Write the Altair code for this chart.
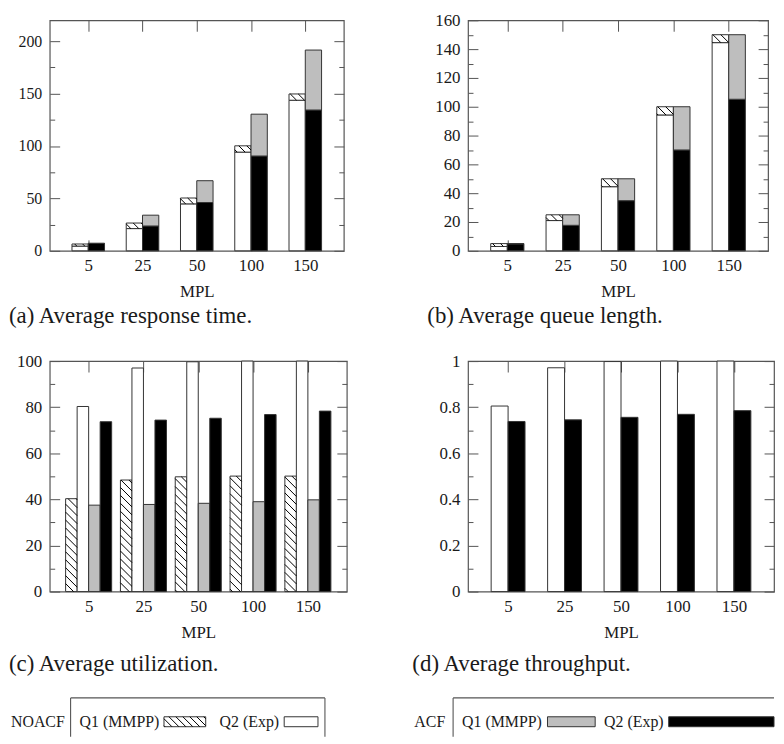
import math
import altair as alt
import pandas as pd

FONT = "Liberation Serif"
TXT = "#1a1a1a"
FRAME = "#555555"
EDGE = "#333333"
GRAY = "#bebebe"

# ---------------- data ----------------
mpl = ["5", "25", "50", "100", "150"]
groups = ["NOACF", "ACF"]
series = ["Q1 (MMPP)", "Q2 (Exp)"]

# (a) Average response time (stacked: Q2 bottom, Q1 top)
resp_noacf_q2 = [4.5, 21.2, 44.8, 94.2, 143.7]
resp_noacf_q1 = [2.0, 5.3, 5.6, 6.0, 6.0]
resp_acf_q2 = [7.0, 23.7, 46.1, 90.5, 134.4]
resp_acf_q1 = [0.2, 10.3, 20.8, 39.9, 57.2]

# (b) Average queue length
qlen_noacf_q2 = [3.0, 21.0, 44.5, 94.3, 144.5]
qlen_noacf_q1 = [2.0, 4.0, 5.5, 5.7, 5.5]
qlen_acf_q2 = [4.8, 17.7, 34.8, 70.0, 105.2]
qlen_acf_q1 = [0.2, 7.3, 15.2, 30.0, 44.8]

# (c) Average utilization (grouped)
util_noacf_q1 = [40.3, 48.4, 49.8, 50.1, 50.1]
util_noacf_q2 = [80.3, 97.0, 99.7, 100.0, 100.0]
util_acf_q1 = [37.5, 37.8, 38.3, 39.0, 39.8]
util_acf_q2 = [73.7, 74.4, 75.2, 76.8, 78.3]

# (d) Average throughput
tput_noacf = [0.805, 0.971, 0.998, 1.0, 1.0]
tput_acf = [0.738, 0.745, 0.756, 0.769, 0.785]

KINDS = ["hatch", "white", "gray", "black"]
KIND_FILL = ["white", "white", GRAY, "black"]

XDOM = [-0.71, 4.71]
STEP = 8.0
H = 232


def hatch_rows(rects, kx, ky):
    rows = []
    for (x0, x1, y0, y1) in rects:
        xa, xb = (x0 - XDOM[0]) * kx, (x1 - XDOM[0]) * kx
        ya, yb = y0 * ky, y1 * ky
        m = math.floor((xa + ya) / STEP) + 1
        while m * STEP < xb + yb:
            c = m * STEP
            sx = max(xa, c - yb)
            ex = min(xb, c - ya)
            if ex - sx > 0.3:
                rows.append(dict(hx=sx / kx + XDOM[0], hx2=ex / kx + XDOM[0],
                                 hy=(c - sx) / ky, hy2=(c - ex) / ky))
            m += 1
    return pd.DataFrame(rows)


def stacked_rects(noacf_q2, noacf_q1, acf_q2, acf_q1, w=0.30):
    rows = []
    for i in range(len(mpl)):
        rows.append(dict(x0=i - w, x1=i, y0=0, y1=noacf_q2[i], kind="white"))
        rows.append(dict(x0=i - w, x1=i, y0=noacf_q2[i], y1=noacf_q2[i] + noacf_q1[i], kind="hatch"))
        rows.append(dict(x0=i, x1=i + w, y0=0, y1=acf_q2[i], kind="black"))
        rows.append(dict(x0=i, x1=i + w, y0=acf_q2[i], y1=acf_q2[i] + acf_q1[i], kind="gray"))
    return pd.DataFrame(rows)


def grouped_rects(cols, kinds, w):
    rows = []
    n = len(cols)
    for i in range(len(mpl)):
        for j, (vals, k) in enumerate(zip(cols, kinds)):
            x0 = i - n * w / 2 + j * w
            rows.append(dict(x0=x0, x1=x0 + w, y0=0, y1=vals[i], kind=k))
    return pd.DataFrame(rows)


PX = alt.X("px:Q", scale=None, axis=None)
PY = alt.Y("py:Q", scale=None, axis=None)
FILL = alt.Fill("kind:N", legend=None, scale=alt.Scale(domain=KINDS, range=KIND_FILL))


def legend_layers(ox, oy, label, lab_x, box, entries):
    """Custom legend drawn in page pixel coords, shifted to the panel origin (ox, oy)."""
    bx0, bx1, btop, bbot = box
    ty = 721
    texts = [dict(px=lab_x - ox, py=ty - oy, t=label)]
    rules = [dict(px=bx0 - ox, px2=bx0 - ox, py=btop - oy, py2=bbot - oy),
             dict(px=bx0 - ox, px2=bx1 - ox, py=btop - oy, py2=btop - oy)]
    if bx1 < 776:
        rules.append(dict(px=bx1 - ox, px2=bx1 - ox, py=btop - oy, py2=bbot - oy))
    sw, hl = [], []
    for s, (tx, sx0, sx1, k) in zip(series, entries):
        texts.append(dict(px=tx - ox, py=ty - oy, t=s))
        sw.append(dict(px=sx0 - ox, px2=sx1 - ox, py=ty - 5 - oy, py2=ty + 5 - oy, kind=k))
        if k == "hatch":
            xa, xb, ya, yb = sx0 - ox, sx1 - ox, ty - 5 - oy, ty + 5 - oy
            m = math.floor((xa - yb) / 7) + 1
            while m * 7 < xb - ya:
                c = m * 7
                a = max(xa, c + ya)
                e = min(xb, c + yb)
                if e - a > 0.3:
                    hl.append(dict(px=a, px2=e, py=a - c, py2=e - c))
                m += 1
    out = [
        alt.Chart(pd.DataFrame(rules)).mark_rule(color=FRAME, strokeWidth=1.1).encode(
            x=PX, x2="px2:Q", y=PY, y2="py2:Q"),
        alt.Chart(pd.DataFrame(sw)).mark_rect(stroke=EDGE, strokeWidth=1).encode(
            x=PX, x2="px2:Q", y=PY, y2="py2:Q", fill=FILL),
        alt.Chart(pd.DataFrame(texts)).mark_text(
            align="left", baseline="middle", font=FONT, fontSize=16, color=TXT).encode(
            x=PX, y=PY, text="t:N"),
    ]
    if hl:
        out.append(alt.Chart(pd.DataFrame(hl)).mark_rule(color="black", strokeWidth=1).encode(
            x=PX, x2="px2:Q", y=PY, y2="py2:Q"))
    return out


def panel(df, ymax, minor, W, caption, cap_x, cap_dy, ylab_size, extra=()):
    kx = W / (XDOM[1] - XDOM[0])
    ky = H / ymax
    major = f"round(datum.value / {minor}) % 2 === 0"
    n = int(math.floor(ymax / minor + 1e-9))
    yvals = [round(i * minor, 6) for i in range(n + 1)]
    lab = "[" + ",".join("'%s'" % m for m in mpl) + "][datum.value]"
    xscale = alt.Scale(domain=XDOM, nice=False, zero=False)
    yscale = alt.Scale(domain=[0, ymax], nice=False, zero=False)
    xaxis = alt.Axis(values=list(range(len(mpl))), labelExpr=lab, title="MPL",
                     grid=True, gridDash=[11, H - 22, 11, 3000], gridColor=FRAME,
                     gridWidth=1, gridOpacity=1, ticks=False, domain=False,
                     labelPadding=7, titlePadding=10, labelFont=FONT, labelFontSize=17,
                     titleFont=FONT, titleFontSize=17, titleFontWeight="normal",
                     labelColor=TXT, titleColor=TXT, labelOverlap=False)
    yaxis = alt.Axis(values=yvals, labelExpr=f"{major} ? format(datum.value, '~g') : ''",
                     title=None, grid=True,
                     gridDash={"condition": {"test": major, "value": [10, W - 20, 10, 3000]},
                               "value": [5, W - 10, 5, 3000]},
                     gridColor=FRAME, gridWidth=1, gridOpacity=1, ticks=False, domain=False,
                     labelPadding=8, labelFont=FONT, labelFontSize=ylab_size, labelColor=TXT,
                     labelOverlap=False, minExtent=40, maxExtent=40)
    bars = alt.Chart(df).mark_rect(stroke=EDGE, strokeWidth=1).encode(
        x=alt.X("x0:Q", scale=xscale, axis=xaxis), x2="x1:Q",
        y=alt.Y("y0:Q", scale=yscale, axis=yaxis), y2="y1:Q",
        fill=FILL)
    layers = [bars]
    hrects = [(r.x0, r.x1, r.y0, r.y1) for r in df.itertuples() if r.kind == "hatch"]
    if hrects:
        hdf = hatch_rows(hrects, kx, ky)
        layers.append(alt.Chart(hdf).mark_rule(color="black", strokeWidth=1).encode(
            x=alt.X("hx:Q", scale=xscale, axis=None), x2="hx2:Q",
            y=alt.Y("hy:Q", scale=yscale, axis=None), y2="hy2:Q"))
    cap = pd.DataFrame({"px": [cap_x], "py": [H + cap_dy], "t": [caption]})
    layers.append(alt.Chart(cap).mark_text(align="left", baseline="middle", font=FONT,
                                           fontSize=23, color=TXT).encode(
        x=PX, y=PY, text="t:N"))
    layers.extend(extra)
    return alt.layer(*layers).resolve_scale(x="independent", y="independent").properties(
        width=W, height=H)


# panel origins on the page (used only to place the custom legend)
C_OX, C_OY = 49, 358
D_OX, D_OY = 468, 358

leg_left = legend_layers(C_OX, C_OY, groups[0], 10, (70, 326, 697, 736),
                         [(79, 164, 206, "hatch"), (220, 285, 319, "white")])
leg_right = legend_layers(D_OX, D_OY, groups[1], 414, (453, 776, 697, 736),
                          [(462, 548, 596, "gray"), (605, 670, 776, "black")])

pa = panel(stacked_rects(resp_noacf_q2, resp_noacf_q1, resp_acf_q2, resp_acf_q1),
           220, 25, 296, "(a) Average response time.", -41, 66, 16)
pb = panel(stacked_rects(qlen_noacf_q2, qlen_noacf_q1, qlen_acf_q2, qlen_acf_q1),
           160, 10, 302, "(b) Average queue length.", -41, 66, 17)
pc = panel(grouped_rects([util_noacf_q1, util_noacf_q2, util_acf_q1, util_acf_q2],
                         ["hatch", "white", "gray", "black"], 0.21),
           100, 10, 299, "(c) Average utilization.", -41, 73, 17, leg_left)
pd_ = panel(grouped_rects([tput_noacf, tput_acf], ["white", "black"], 0.30),
            1.0, 0.1, 308, "(d) Average throughput.", -56, 73, 17, leg_right)

chart = alt.concat(pa, pb, pc, pd_, columns=2, align="each",
                   spacing={"row": 22, "column": 64}).properties(
    padding={"left": 0, "top": 0, "right": 0, "bottom": 0}
).configure_view(stroke=FRAME, strokeWidth=1.2).configure_axis(
    labelFont=FONT, titleFont=FONT).configure_text(font=FONT)

chart.save("out.html", embed_options={"renderer": "svg", "actions": False})
